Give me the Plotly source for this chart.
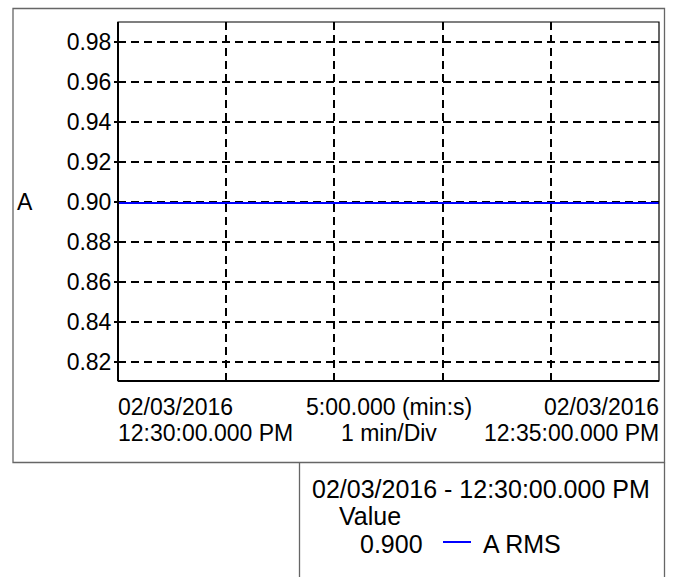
import plotly.graph_objects as go

# ---- data ----
times = ["2016-02-03 12:30:00", "2016-02-03 12:31:00", "2016-02-03 12:32:00",
         "2016-02-03 12:33:00", "2016-02-03 12:34:00", "2016-02-03 12:35:00"]
a_rms = [0.8995, 0.8995, 0.8995, 0.8995, 0.8995, 0.8995]
y_ticks = [0.82, 0.84, 0.86, 0.88, 0.90, 0.92, 0.94, 0.96, 0.98]
y_tick_text = ["0.82", "0.84", "0.86", "0.88", "0.90", "0.92", "0.94", "0.96", "0.98"]
x_start_label = ["02/03/2016", "12:30:00.000 PM"]
x_mid_label = ["5:00.000 (min:s)", "1 min/Div"]
x_end_label = ["02/03/2016", "12:35:00.000 PM"]
legend_header = "02/03/2016 - 12:30:00.000 PM"
legend_col = "Value"
legend_value = "0.900"
series_name = "A RMS"
y_title = "A"

W, H = 674, 577
L, R, T, B = 118, 659, 22, 381
FONT = "Liberation Sans, Arial, Helvetica, sans-serif"
FS = 23
FS_LEG = 25

def px(x):
    return (x - L) / (R - L)

def py(y):
    return (B - y) / (B - T)

fig = go.Figure()
fig.add_trace(go.Scatter(x=times, y=a_rms, mode="lines", name=series_name,
                         line=dict(color="#0000ff", width=2), showlegend=False))

fig.update_layout(
    width=W, height=H,
    margin=dict(l=L, r=W - R, t=T, b=H - B),
    paper_bgcolor="white", plot_bgcolor="white",
    font=dict(family=FONT, size=FS, color="black"),
    showlegend=False,
    xaxis=dict(
        range=[times[0], times[-1]],
        dtick=60000, tick0=times[0],
        showticklabels=False, ticks="",
        showgrid=True, gridcolor="black", gridwidth=1.6, griddash="8px,5px",
        showline=False, zeroline=False,
    ),
    yaxis=dict(
        range=[0.8105, 0.990],
        tickmode="array", tickvals=y_ticks, ticktext=y_tick_text,
        ticks="outside", ticklen=3, tickwidth=1.5, tickcolor="black",
        ticklabelstandoff=-2,
        tickfont=dict(family=FONT, size=FS, color="black"),
        showgrid=True, gridcolor="black", gridwidth=1.6, griddash="8px,5px",
        showline=False, zeroline=False,
    ),
)

shapes = []
# plot border
shapes.append(dict(type="rect", xref="paper", yref="paper", x0=0, x1=1, y0=0, y1=1,
                   line=dict(color="black", width=1.2), layer="above"))
shapes.append(dict(type="line", xref="paper", yref="paper", x0=0, x1=0, y0=0, y1=1,
                   line=dict(color="black", width=2), layer="above"))
shapes.append(dict(type="line", xref="paper", yref="paper", x0=0, x1=1, y0=0, y1=0,
                   line=dict(color="black", width=2), layer="above"))
# outer frame
GC = "#666666"
shapes.append(dict(type="rect", xref="paper", yref="paper", x0=px(13), x1=px(664.5),
                   y0=py(462.5), y1=py(8.5), line=dict(color=GC, width=1.3)))
# legend box (open at bottom)
shapes.append(dict(type="line", xref="paper", yref="paper", x0=px(299.5), x1=px(299.5),
                   y0=py(462.5), y1=py(580), line=dict(color=GC, width=1.3)))
shapes.append(dict(type="line", xref="paper", yref="paper", x0=px(664.5), x1=px(664.5),
                   y0=py(462.5), y1=py(580), line=dict(color=GC, width=1.3)))
# legend sample
shapes.append(dict(type="line", xref="paper", yref="paper", x0=px(443), x1=px(471),
                   y0=py(542), y1=py(542), line=dict(color="#0000ff", width=2)))
fig.update_layout(shapes=shapes)

def ann(text, x, y, xanchor, size=FS):
    return dict(text=text, x=px(x), y=py(y), xref="paper", yref="paper",
                xanchor=xanchor, yanchor="middle", showarrow=False,
                font=dict(family=FONT, size=size, color="black"))

anns = [
    ann(x_start_label[0], L - 2, 407, "left"),
    ann(x_start_label[1], L - 2, 433, "left"),
    ann(x_mid_label[0], (L + R) / 2, 407, "center"),
    ann(x_mid_label[1], (L + R) / 2, 433, "center"),
    ann(x_end_label[0], R + 2, 407, "right"),
    ann(x_end_label[1], R + 2, 433, "right"),
    ann(y_title, 15, 202, "left"),
    ann(legend_header, 310, 489, "left", FS_LEG),
    ann(legend_col, 337, 516, "left", FS_LEG),
    ann(legend_value, 358, 544, "left", FS_LEG),
    ann(series_name, 481, 544, "left", FS_LEG),
]
fig.update_layout(annotations=anns)

fig.write_html("out.html", config={"displayModeBar": False},
               post_script="document.body.style.margin='0px';")
